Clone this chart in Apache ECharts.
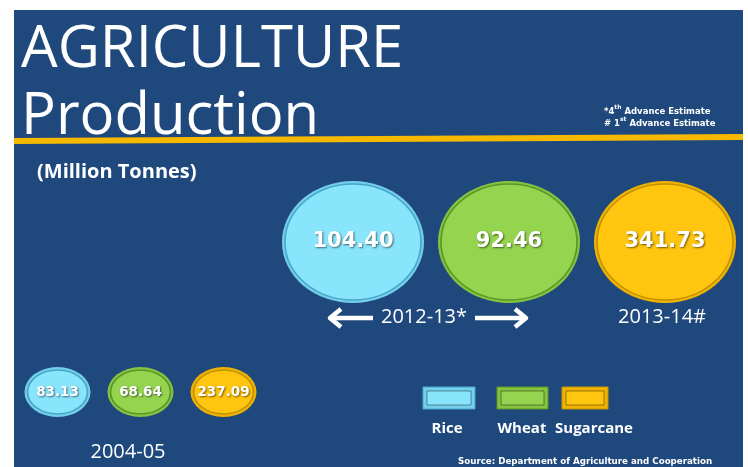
<!DOCTYPE html>
<html>
<head>
<meta charset="utf-8">
<script src="https://cdn.jsdelivr.net/npm/echarts@6/dist/echarts.min.js"></script>
<style>
  html, body { margin: 0; padding: 0; background: #fff; }
  #view { width: 748px; height: 467px; }
</style>
</head>
<body>
<div id="view"></div>
<script>
// values in million tonnes
var crops = ['Rice', 'Wheat', 'Sugarcane'];
var output2004 = [83.13, 68.64, 237.09];
var outputLatest = [104.40, 92.46, 341.73];
var periods = ['2004-05', '2012-13*', '2013-14#'];

var fillColors = ['#88e5fc', '#95d44f', '#ffc50f'];
var rimColors = ['#4aa6c8', '#5a9628', '#c29200'];
var lightRim = ['#74cfee', '#86c440', '#f0b400'];

var ellipse = 'path://M0,50A50,50,0,1,1,100,50A50,50,0,1,1,0,50Z';

function bubbles(values, gridIndex, size, fontSize) {
    var rim = {
        type: 'scatter', xAxisIndex: gridIndex, yAxisIndex: gridIndex,
        symbol: ellipse, symbolSize: size, silent: true, z: 2,
        data: values.map(function(v, i) {
            return {value: [i, 0, v], itemStyle: {color: lightRim[i], opacity: 1}};
        })
    };
    var body = {
        type: 'scatter', xAxisIndex: gridIndex, yAxisIndex: gridIndex,
        symbol: ellipse, symbolSize: [size[0] - 6, size[1] - 6], silent: true, z: 3,
        data: values.map(function(v, i) {
            return {value: [i, 0, v], itemStyle: {color: fillColors[i], borderColor: rimColors[i], borderWidth: 1.5, opacity: 1}};
        }),
        label: {
            show: true, position: 'inside',
            formatter: function(p) { return p.value[2].toFixed(2); },
            color: '#fff', fontFamily: 'DejaVu Sans', fontWeight: 'bold', fontSize: fontSize,
            textShadowColor: 'rgba(0,0,0,0.55)', textShadowBlur: 2, textShadowOffsetX: 1, textShadowOffsetY: 1
        }
    };
    return [rim, body];
}

function legendBox(x, w, i, labelX) {
    return [
        {type: 'rect', shape: {x: x, y: 387, width: w, height: 22}, style: {fill: lightRim[i], stroke: rimColors[i], lineWidth: 1}},
        {type: 'rect', shape: {x: x + 4, y: 391, width: w - 8, height: 14}, style: {fill: fillColors[i], stroke: 'rgba(0,0,0,0.4)', lineWidth: 1}},
        {type: 'text', style: {text: crops[i], x: labelX, y: 429, align: 'center', verticalAlign: 'middle',
            fill: '#fff', font: 'bold 15px "Open Sans"'}}
    ];
}

var titleFont = '"Open Sans", sans-serif';
var chart = echarts.init(document.getElementById('view'));

var graphics = [
    {type: 'rect', z: -10, shape: {x: 14, y: 10, width: 729, height: 457}, style: {fill: '#1f497d'}},
    {type: 'polygon', shape: {points: [[14, 138], [743, 134], [743, 140], [14, 144]]}, style: {fill: '#f6b900'}},
    {type: 'text', style: {text: 'AGRICULTURE', x: 21, y: 50, verticalAlign: 'middle', fill: '#fff', font: '58px ' + titleFont}},
    {type: 'text', style: {text: 'Production', x: 21, y: 117, verticalAlign: 'middle', fill: '#fff', font: '58px ' + titleFont}},
    {type: 'text', style: {
        text: '{t|*4}{s|th}{t| Advance Estimate}\n{t|# 1}{s|st}{t| Advance Estimate}', x: 604, y: 116, verticalAlign: 'middle',
        rich: {
            t: {fill: '#fff', font: 'bold 8.5px "DejaVu Sans"', lineHeight: 12, verticalAlign: 'bottom'},
            s: {fill: '#fff', font: 'bold 6px "DejaVu Sans"', lineHeight: 12, verticalAlign: 'top'}
        }
    }},
    {type: 'text', style: {text: '(Million Tonnes)', x: 37, y: 172, verticalAlign: 'middle', fill: '#fff', font: 'bold 20px "Open Sans"'}},
    // period captions
    {type: 'text', style: {text: periods[1], x: 424, y: 317, align: 'center', verticalAlign: 'middle', fill: '#fff', font: '20px ' + titleFont}},
    {type: 'text', style: {text: periods[2], x: 662, y: 317, align: 'center', verticalAlign: 'middle', fill: '#fff', font: '20px ' + titleFont}},
    {type: 'text', style: {text: periods[0], x: 128, y: 452, align: 'center', verticalAlign: 'middle', fill: '#fff', font: '20px ' + titleFont}},
    // arrows around 2012-13*
    {type: 'line', shape: {x1: 331, y1: 318, x2: 373, y2: 318}, style: {stroke: '#fff', lineWidth: 4.5}},
    {type: 'polyline', shape: {points: [[341, 309], [330, 318], [341, 327]]}, style: {stroke: '#fff', lineWidth: 4.5, fill: null, lineJoin: 'round'}},
    {type: 'line', shape: {x1: 475, y1: 318, x2: 525, y2: 318}, style: {stroke: '#fff', lineWidth: 4.5}},
    {type: 'polyline', shape: {points: [[515, 309], [526, 318], [515, 327]]}, style: {stroke: '#fff', lineWidth: 4.5, fill: null, lineJoin: 'round'}},
    {type: 'text', style: {text: 'Source: Department of Agriculture and Cooperation', x: 458, y: 462, verticalAlign: 'middle',
        fill: '#fff', font: 'bold 8.7px "DejaVu Sans"'}}
].concat(legendBox(423, 52, 0, 447), legendBox(497, 51, 1, 522), legendBox(562, 46, 2, 594));

var hiddenX = {type: 'category', data: crops, show: false};
var hiddenY = {type: 'category', data: ['row'], show: false};

chart.setOption({
    backgroundColor: '#fff',
    animation: false,
    grid: [
        {left: 275, width: 468, top: 181, height: 122},
        {left: 16, width: 249, top: 367, height: 50}
    ],
    xAxis: [Object.assign({gridIndex: 0}, hiddenX), Object.assign({gridIndex: 1}, hiddenX)],
    yAxis: [Object.assign({gridIndex: 0}, hiddenY), Object.assign({gridIndex: 1}, hiddenY)],
    graphic: graphics,
    series: bubbles(outputLatest, 0, [142, 122], 21).concat(bubbles(output2004, 1, [66, 50], 13.5))
});
</script>
</body>
</html>
